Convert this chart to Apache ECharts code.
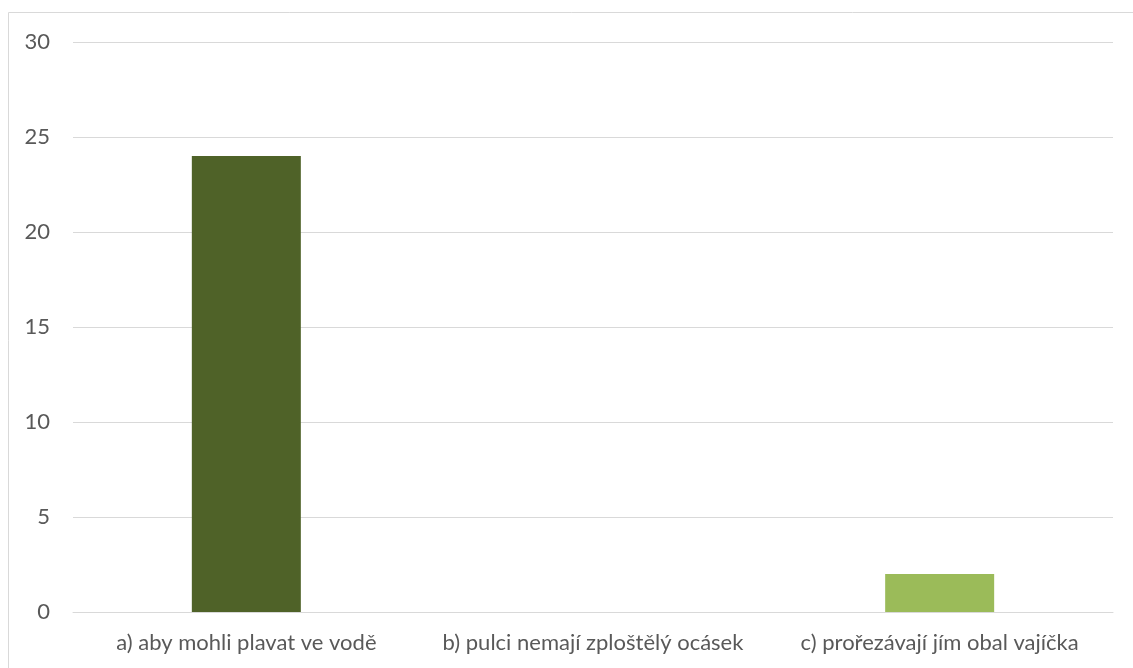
<!DOCTYPE html>
<html><head><meta charset="utf-8">
<script src="https://cdn.jsdelivr.net/npm/echarts@6/dist/echarts.min.js"></script>
<style>html,body{margin:0;padding:0;background:#fff}#c{width:1133px;height:668px}</style>
</head><body><div id="c"></div>
<script>
const categories = ['a) aby mohli plavat ve vodě', 'b) pulci nemají zploštělý ocásek', 'c) prořezávají jím obal vajíčka'];
const values = [24, 0, 2];
const barColors = ['#4F6228', '#4F6228', '#9BBB59'];
const chart = echarts.init(document.getElementById('c'));
chart.setOption({
  animation: false,
  graphic: [{type: 'rect', shape: {x: 8.5, y: 12.5, width: 1200, height: 700}, style: {fill: 'none', stroke: '#D9D9D9', lineWidth: 1}, silent: true, z: -1}],
  grid: {left: 73, right: 20, top: 42, bottom: 56, containLabel: false},
  xAxis: {type: 'category', data: categories,
    axisLine: {lineStyle: {color: '#D9D9D9', width: 1}}, axisTick: {show: false},
    axisLabel: {color: '#595959', fontSize: 22, fontFamily: 'Lato', margin: 20, interval: 0}},
  yAxis: {type: 'value', min: 0, max: 30, interval: 5,
    axisLine: {show: false}, axisTick: {show: false},
    splitLine: {lineStyle: {color: '#D9D9D9', width: 1}},
    axisLabel: {color: '#595959', fontSize: 22, fontFamily: 'Lato', margin: 23}},
  series: [{type: 'bar', barWidth: 109,
    data: values.map((v, i) => ({value: v, itemStyle: {color: barColors[i]}}))}]
});
</script></body></html>
